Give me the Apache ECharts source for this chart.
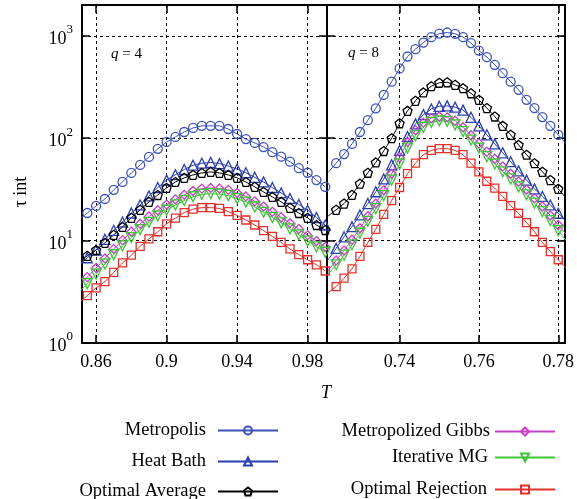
<!DOCTYPE html>
<html><head><meta charset="utf-8">
<script src="https://cdn.jsdelivr.net/npm/echarts@6/dist/echarts.min.js"></script>
<style>html,body{margin:0;padding:0;background:#fff}#c{width:577px;height:499px}</style>
</head><body><div id="c"></div>
<script>
// ---------- data ----------
const seriesNames = ['Metropolis', 'Heat Bath', 'Optimal Average', 'Metropolized Gibbs', 'Iterative MG', 'Optimal Rejection'];

// q = 4 panel
const tLeft = [0.855,0.86,0.865,0.87,0.875,0.88,0.885,0.89,0.895,0.9,0.905,0.91,0.915,0.92,0.925,0.93,0.935,0.94,0.945,0.95,0.955,0.96,0.965,0.97,0.975,0.98,0.985,0.99];
const metroL = [18.6,21.8,25.5,31.3,37.4,45.8,54.9,65.7,78.7,92,103,115,126,132,132,132,123,110,98,90,82,73,66,59,51,46,39,33.5];
const heatL  = [6.8,8.1,10.3,12.6,15.2,18.6,22.3,27.3,33,39,44,49.5,54.5,57,58,56.5,53.5,50,46,41.5,37.4,33,29.2,25.8,22.5,19.8,16.8,14.2];
const oaL    = [7.1,8.1,9.5,11.4,13.6,16.7,20,23.9,27.9,32.7,37.4,41,43.8,45.8,46.9,45.8,43.8,41,37.4,33.5,29.9,26.7,23.9,20.9,18.6,16.7,14.2,12.7];
const gibbsL = [4.4,5.4,6.7,8.3,10.1,12.2,14.6,17.2,19.8,22.5,25.3,28,30.5,32.2,32.7,32.3,31.3,29.2,27,24.2,21.5,19.1,16.9,14.8,13,11.3,9.9,8.7];
const imgL   = [3.8,4.7,5.9,7.3,8.9,10.7,12.8,15.1,17.4,19.8,22.3,24.6,26.8,28.3,28.8,28.4,27.5,25.7,23.8,21.3,18.9,16.8,14.9,13,11.4,9.9,8.7,7.7];
const rejL   = [2.9,3.45,3.97,4.9,6.05,7.2,8.8,10.4,12.2,14.6,16.6,18.8,20.3,21,21,20.6,19.2,17.6,15.9,14.2,12.5,11,9.6,8.3,7.3,6.5,5.8,5.05];
// line continuation to the left frame edge (q = 4)
const leadTLeft = 0.85;
const leadLeft = [15.9, 5.7, 6.2, 3.6, 3.1, 2.45];

// q = 8 panel
const tRight = [0.724,0.726,0.728,0.73,0.732,0.734,0.736,0.738,0.74,0.742,0.744,0.746,0.748,0.75,0.752,0.754,0.756,0.758,0.76,0.762,0.764,0.766,0.768,0.77,0.772,0.774,0.776,0.778,0.78];
const metroR = [57,70,88,115,150,196,265,357,480,628,741,860,971,1050,1077,1046,971,849,718,619,521,432,357,297,237,197,161,132,108];
const heatR  = [8.4,10.9,13.7,17.8,23,30,40,55,76,104,138,170,193,205,207,201,188,160,132,108,88,72,59,48,39,32,27,22.3,18.5];
const oaR    = [20,23,28,36,46,58,75,100,140,185,232,280,322,348,352,332,308,275,237,197,163,132,108,86,69,57,47,39,32];
const gibbsR = [6.4,8,10.2,13.2,17.3,23,31,45,65,92,120,142,157,163,160,148,128,107,89,74,63,53,45,37.7,31.5,26,21.5,17.6,14.2];
const imgR   = [5.8,7.2,9.1,11.8,15.4,20.5,27.5,39,56,80,106,128,143,148,146,135,116,96,80,66,56,47,40,33.5,28,23.2,19.2,15.7,12.5];
const rejR   = [3.55,4.3,5.3,7,9.6,12.9,18,24.6,33,45,57,69,76,79,79,76,69,57,47,38,32.5,27,22,18.5,15,12.2,9.6,7.8,6.5];
// line continuation to the frame edges (q = 8)
const leadTRight = 0.722, tailTRight = 0.782;
const leadRight = [46.4, 6.5, 17.4, 5.1, 4.7, 3.1];
const tailRight = [88, 15.3, 26, 11.5, 10, 5.4];

// ticks
const xTicksLeft = [0.86, 0.9, 0.94, 0.98];
const xLabelsLeft = ['0.86', '0.9', '0.94', '0.98'];
const xTicksRight = [0.74, 0.76, 0.78];
const xLabelsRight = ['0.74', '0.76', '0.78'];
const yTicks = [1, 10, 100, 1000];
const yExps = ['0', '1', '2', '3'];

// ---------- styling ----------
const FONT = 'Liberation Serif';
const pentagon = 'path://M0,-10L9.51,-3.09L5.88,8.09L-5.88,8.09L-9.51,-3.09Z';
const styles = [
  {color: '#3d52b6', symbol: 'circle', size: 9, rotate: 0},
  {color: '#2b3eae', symbol: 'triangle', size: 10, rotate: 0},
  {color: '#000000', symbol: pentagon, size: 9, rotate: 0},
  {color: '#c640c6', symbol: 'diamond', size: 9, rotate: 0},
  {color: '#3fc43a', symbol: 'triangle', size: 10, rotate: 180},
  {color: '#e3302a', symbol: 'rect', size: 8, rotate: 0}
];
const leftVals = [metroL, heatL, oaL, gibbsL, imgL, rejL];
const rightVals = [metroR, heatR, oaR, gibbsR, imgR, rejR];

function lookup(ticks, labels, v) {
  let best = 0;
  for (let i = 1; i < ticks.length; i++) if (Math.abs(ticks[i] - v) < Math.abs(ticks[best] - v)) best = i;
  return labels[best];
}

const frame = {lineStyle: {color: '#000', width: 2}};
const tick = {show: true, inside: true, length: 8, lineStyle: {color: '#000', width: 1.5}};
const grid = {show: true, lineStyle: {color: '#000', width: 1, type: [3, 3]}};

function xAx(gi, min, max, ticks, labels, pos) {
  const bottom = pos === 'bottom';
  return {
    type: 'value', gridIndex: gi, position: pos, min, max,
    axisLine: {show: true, onZero: false, ...frame},
    axisTick: {...tick, customValues: ticks},
    axisLabel: bottom ? {show: true, customValues: ticks, margin: 10, fontFamily: FONT, fontSize: 18, color: '#000',
      formatter: v => lookup(ticks, labels, v)} : {show: false},
    splitLine: bottom ? {...grid} : {show: false}
  };
}
function yAx(gi, pos, withLabels, withGrid) {
  const o = {
    type: 'log', logBase: 10, gridIndex: gi, position: pos, min: 1, max: 2000,
    axisLine: {show: true, onZero: false, ...frame},
    axisTick: {...tick, customValues: yTicks},
    axisLabel: withLabels ? {
      show: true, customValues: yTicks, margin: 9,
      formatter: v => '{b|10}{s|' + lookup(yTicks, yExps, v) + '}',
      rich: {
        b: {fontFamily: FONT, fontSize: 18, color: '#000', lineHeight: 25, verticalAlign: 'bottom'},
        s: {fontFamily: FONT, fontSize: 13, color: '#000', verticalAlign: 'top', lineHeight: 13}
      }
    } : {show: false},
    splitLine: withGrid ? {...grid} : {show: false}
  };
  if (withLabels) {
    o.name = 'τ int';
    o.nameLocation = 'middle';
    o.nameGap = 52;
    o.nameRotate = 90;
    o.nameTextStyle = {fontFamily: FONT, fontSize: 18, color: '#000', padding: [0, 36, 0, 0]};
  }
  return o;
}

const series = [];
seriesNames.forEach((name, k) => {
  const st = styles[k];
  const common = {
    type: 'line', name, symbol: st.symbol, symbolSize: st.size, symbolRotate: st.rotate,
    showAllSymbol: true, clip: true, animation: false, emphasis: {disabled: true},
    lineStyle: {color: st.color, width: 1},
    itemStyle: {color: 'rgba(255,255,255,0)', borderColor: st.color, borderWidth: 1.3}
  };
  const dl = [{value: [leadTLeft, leadLeft[k]], symbol: 'none'}];
  tLeft.forEach((t, i) => dl.push([t, leftVals[k][i]]));
  series.push({...common, xAxisIndex: 0, yAxisIndex: 0, data: dl});
  const dr = [{value: [leadTRight, leadRight[k]], symbol: 'none'}];
  tRight.forEach((t, i) => dr.push([t, rightVals[k][i]]));
  dr.push({value: [tailTRight, tailRight[k]], symbol: 'none'});
  series.push({...common, xAxisIndex: 2, yAxisIndex: 2, data: dr});
});

const legendBase = {
  orient: 'horizontal', align: 'right', itemWidth: 60, itemHeight: 10, padding: 0,
  selectedMode: false
};
const legendPos = [
  {right: 298, top: 421, pad: 7}, {right: 298, top: 452, pad: 7}, {right: 298, top: 482, pad: 7},
  {right: 21, top: 422, pad: 0}, {right: 21, top: 448, pad: 2}, {right: 21, top: 480, pad: 3}
];

const option = {
  backgroundColor: '#fff',
  animation: false,
  grid: [
    {left: 82, top: 5, width: 245, height: 338},
    {left: 327, top: 5, width: 246, height: 338}
  ],
  xAxis: [
    xAx(0, 0.852, 0.991, xTicksLeft, xLabelsLeft, 'bottom'),
    xAx(0, 0.852, 0.991, xTicksLeft, xLabelsLeft, 'top'),
    xAx(1, 0.7217, 0.7817, xTicksRight, xLabelsRight, 'bottom'),
    xAx(1, 0.7217, 0.7817, xTicksRight, xLabelsRight, 'top')
  ],
  yAxis: [
    yAx(0, 'left', true, true),
    yAx(0, 'right', false, false),
    yAx(1, 'left', false, true),
    yAx(1, 'right', false, false)
  ],
  title: [
    {text: '{i|q} = 4', left: 111, top: 47, padding: 0,
      textStyle: {fontFamily: FONT, fontSize: 15, fontWeight: 'normal', color: '#000', rich: {i: {fontFamily: FONT, fontSize: 15, fontStyle: 'italic', color: '#000'}}}},
    {text: '{i|q} = 8', left: 348, top: 46, padding: 0,
      textStyle: {fontFamily: FONT, fontSize: 15, fontWeight: 'normal', color: '#000', rich: {i: {fontFamily: FONT, fontSize: 15, fontStyle: 'italic', color: '#000'}}}},
    {text: 'T', left: 321, top: 384, padding: 0,
      textStyle: {fontFamily: FONT, fontSize: 18, fontWeight: 'normal', fontStyle: 'italic', color: '#000'}}
  ],
  legend: seriesNames.map((n, k) => ({
    ...legendBase, right: legendPos[k].right, top: legendPos[k].top, data: [n],
    textStyle: {fontFamily: FONT, fontSize: 18.5, color: '#000', padding: [0, legendPos[k].pad, 0, 0]}
  })),
  series
};

const chart = echarts.init(document.getElementById('c'), null, {renderer: 'canvas'});
chart.setOption(option);
</script>
</body></html>
